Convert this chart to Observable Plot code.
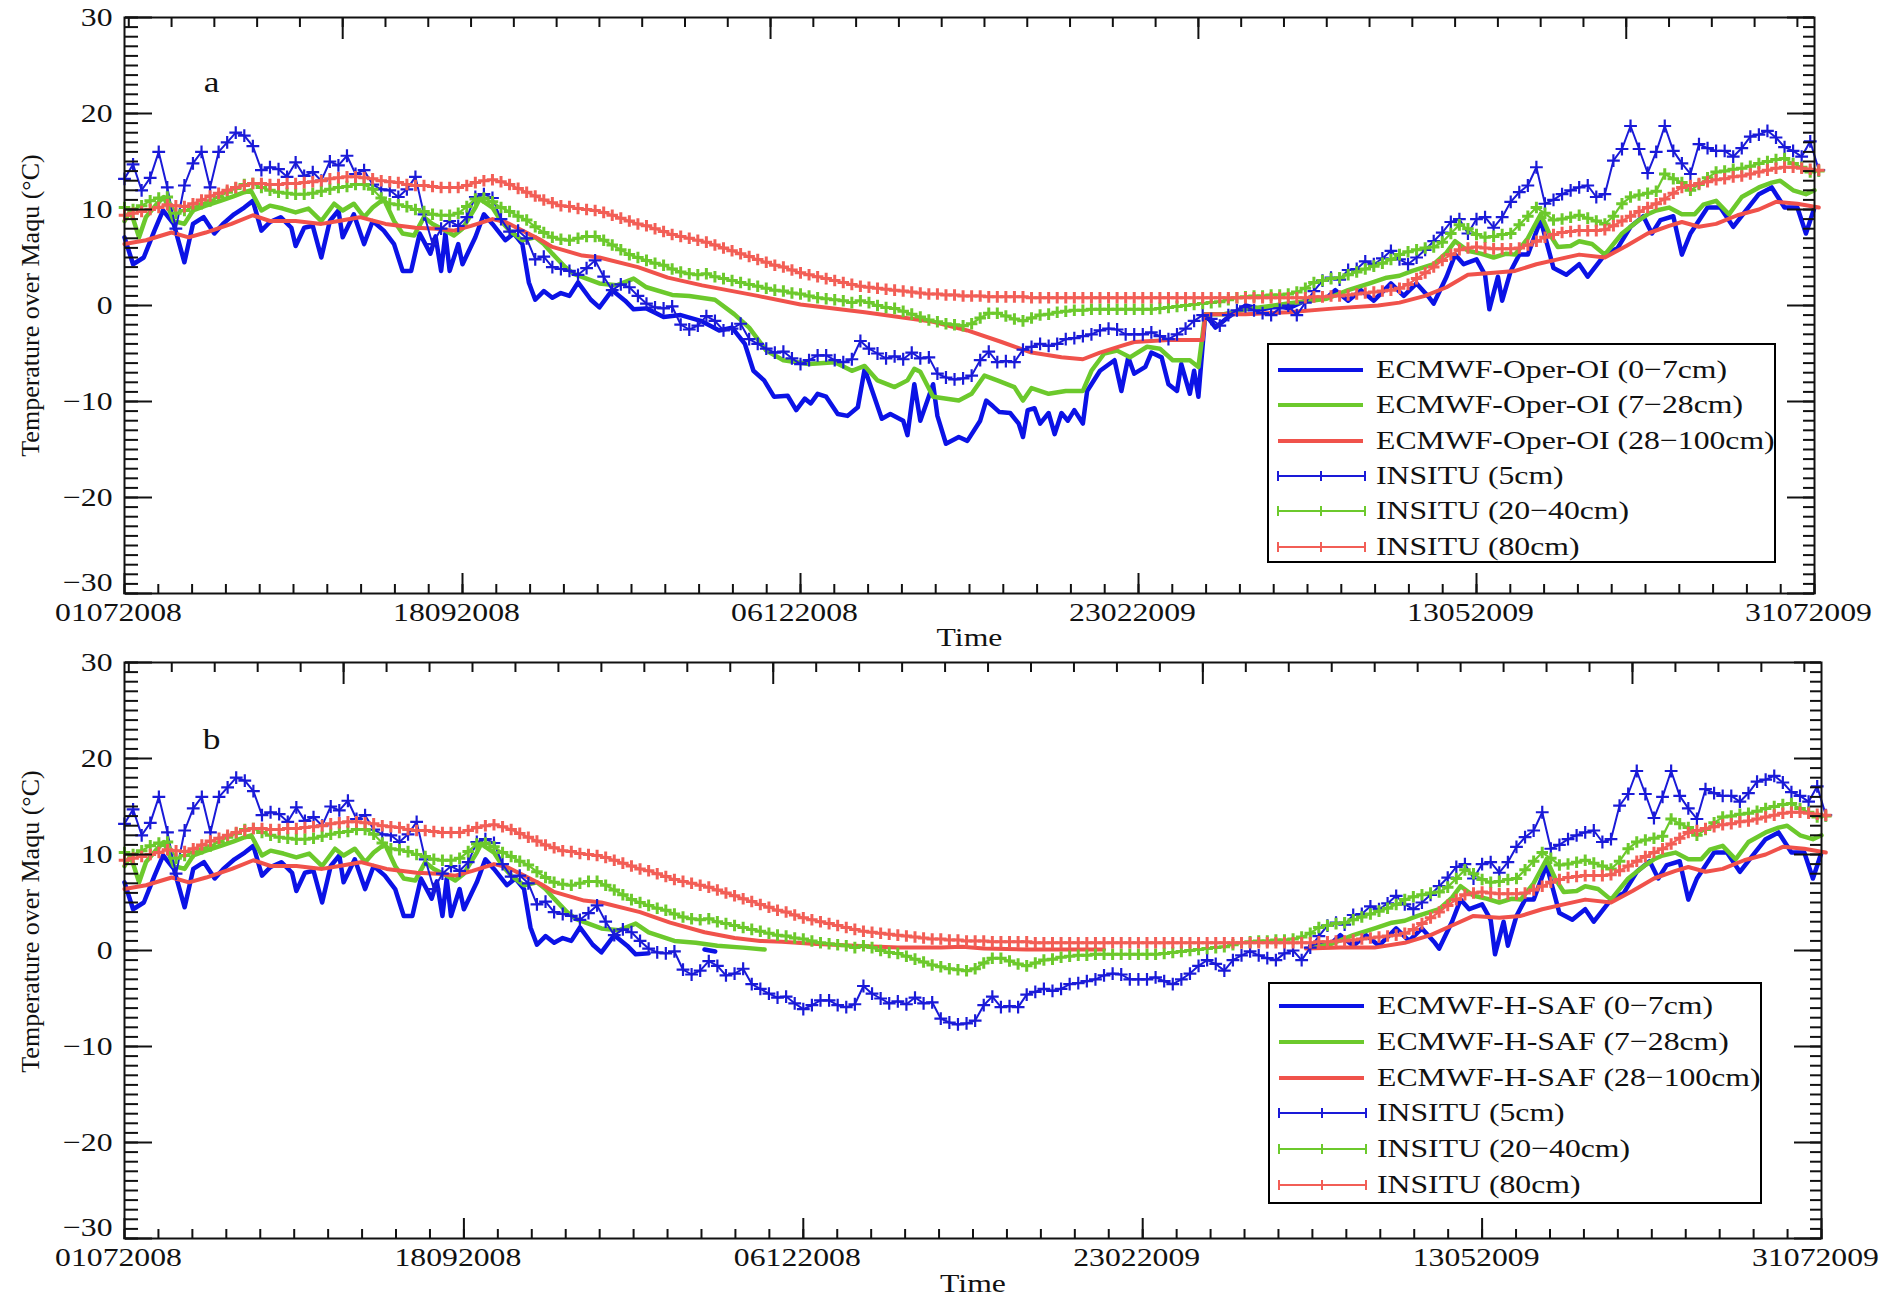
<!DOCTYPE html>
<html><head><meta charset="utf-8">
<script src="https://cdn.jsdelivr.net/npm/d3@7"></script>
<script src="https://cdn.jsdelivr.net/npm/@observablehq/plot@0.6"></script>
<style>
body{margin:0;background:#fff;}
#wrap{position:relative;width:1894px;height:1296px;background:#fff;overflow:hidden;font-family:"Liberation Serif","Times New Roman",serif;}
.panel{position:absolute;left:0;}
.legend{position:absolute;border:2px solid #000;background:#fff;box-sizing:border-box;}
.row{position:absolute;left:0;height:36px;width:100%;}
.row svg{position:absolute;left:8px;top:0;overflow:visible;}
.row span{position:absolute;left:107px;top:0;line-height:36px;font-size:26px;white-space:nowrap;transform:scaleX(1.22);transform-origin:0 50%;color:#111;}
</style></head>
<body><div id="wrap"></div>
<script>
const BLUE = "#0b12e6", GREEN = "#6cc92c", RED = "#f0524b";
const INSITU_BLUE = "#1a1ad8", INSITU_RED = "#f25e56";

// ---------- tick labels / text ----------
const xTickLabels = ["01072008","18092008","06122008","23022009","13052009","31072009"];
const yTicks = [-30,-20,-10,0,10,20,30];
const yTitle = "Temperature over Maqu (°C)";
const xTitle = "Time";
const legendA = ["ECMWF-Oper-OI (0−7cm)","ECMWF-Oper-OI (7−28cm)","ECMWF-Oper-OI (28−100cm)","INSITU (5cm)","INSITU (20−40cm)","INSITU (80cm)"];
const legendB = ["ECMWF-H-SAF (0−7cm)","ECMWF-H-SAF (7−28cm)","ECMWF-H-SAF (28−100cm)","INSITU (5cm)","INSITU (20−40cm)","INSITU (80cm)"];

// ---------- in-situ series: one value every 2 days from 01 Jul 2008 ----------
const insituStepDays = 2;
const insitu5 = [
13.2,14.7,12.0,13.3,16.0,12.3,8.0,12.5,14.8,16.0,
12.3,16.0,17.0,18.0,17.7,16.6,14.1,14.4,14.2,13.4,
14.9,13.5,13.9,13.0,15.0,14.6,15.6,13.7,14.1,12.6,
12.1,12.0,11.3,12.1,13.4,9.5,6.4,8.0,8.8,8.3,
9.2,11.3,11.6,11.2,9.0,7.7,7.8,7.0,4.8,5.1,
4.0,3.8,3.6,3.2,3.9,4.7,3.0,1.6,2.2,1.9,
1.0,0.2,-0.2,-0.3,-0.1,-2.0,-2.5,-2.1,-1.1,-1.6,
-2.6,-2.4,-1.9,-3.5,-4.0,-4.5,-4.9,-4.8,-5.5,-6.1,
-5.7,-5.2,-5.2,-5.7,-5.9,-5.6,-3.7,-4.5,-5.0,-5.5,
-5.3,-5.6,-4.9,-5.5,-5.4,-7.1,-7.5,-7.7,-7.6,-7.3,
-5.7,-4.8,-5.9,-5.8,-5.9,-4.6,-4.3,-4.0,-4.2,-4.0,
-3.5,-3.4,-3.2,-3.0,-2.6,-2.4,-2.5,-3.0,-3.0,-3.0,
-2.8,-3.2,-3.5,-3.0,-2.4,-1.6,-1.0,-1.4,-2.1,-1.0,
-0.5,-0.1,-0.5,-0.8,-1.0,-0.3,0.0,-1.0,0.3,1.5,
2.6,2.9,2.7,3.7,3.8,4.6,4.3,4.9,5.7,4.8,
4.3,5.0,5.8,6.7,7.6,8.7,9.0,7.5,9.0,9.2,
8.1,9.2,10.8,11.8,12.5,14.4,10.6,11.0,11.6,12.0,
12.3,12.5,11.3,11.6,15.1,16.3,18.7,16.3,13.8,16.0,
18.7,16.1,14.8,13.7,16.8,16.4,16.1,16.1,15.5,16.4,
17.6,17.8,18.2,17.5,16.5,16.1,15.5,17.1,14.1];
const insitu2040 = [
10.2,10.0,10.4,10.9,11.2,11.3,9.6,9.9,10.2,10.6,
10.9,11.3,11.8,12.2,12.6,12.7,12.3,12.0,11.8,11.7,
11.6,11.6,11.7,11.9,12.1,12.3,12.4,12.6,12.6,12.1,
11.2,10.6,10.5,10.3,10.0,9.8,9.5,9.4,9.4,9.6,
10.3,11.1,11.2,10.8,10.2,9.8,9.3,8.9,8.2,7.6,
7.1,6.9,6.8,7.0,7.2,7.2,6.8,6.3,5.8,5.3,
5.0,4.7,4.4,4.2,3.8,3.5,3.3,3.2,3.3,3.0,
2.8,2.6,2.4,2.2,2.0,1.8,1.6,1.5,1.3,1.2,
1.0,0.8,0.7,0.6,0.5,0.3,0.5,0.3,0.0,-0.2,
-0.3,-0.6,-0.9,-1.2,-1.5,-1.7,-1.9,-2.0,-2.1,-1.9,
-1.3,-0.8,-0.8,-1.1,-1.4,-1.6,-1.3,-1.0,-0.9,-0.7,
-0.6,-0.5,-0.5,-0.4,-0.4,-0.4,-0.4,-0.4,-0.4,-0.4,
-0.4,-0.3,-0.2,-0.1,0.0,0.1,0.2,0.3,0.4,0.6,
0.8,0.9,1.0,1.0,1.1,1.1,1.2,1.4,1.8,2.4,
2.6,2.8,2.9,3.2,3.5,3.8,4.1,4.4,4.8,5.3,
5.6,5.8,6.0,6.1,6.6,7.5,8.4,8.0,7.4,7.1,
7.2,7.4,7.5,8.4,9.3,10.2,9.6,8.9,9.0,9.2,
9.4,9.1,8.8,8.5,9.3,10.6,11.3,11.5,11.7,11.9,
13.7,13.2,12.8,12.0,12.6,13.3,13.9,14.0,14.2,14.3,
14.5,14.8,15.0,15.2,15.3,14.8,14.4,13.9,14.0];
const insitu80 = [
9.4,9.6,9.8,10.0,10.2,10.5,10.4,10.3,10.6,11.0,
11.4,11.7,12.0,12.3,12.5,12.7,12.7,12.6,12.6,12.7,
12.7,12.8,12.9,13.0,13.2,13.3,13.4,13.4,13.3,13.2,
13.0,12.9,12.8,12.6,12.5,12.5,12.4,12.3,12.3,12.3,
12.5,12.8,13.0,13.1,12.9,12.6,12.2,11.8,11.4,11.0,
10.7,10.4,10.3,10.1,10.0,9.9,9.7,9.4,9.1,8.8,
8.5,8.3,8.0,7.7,7.4,7.2,7.0,6.8,6.6,6.3,
6.0,5.7,5.4,5.1,4.8,4.5,4.2,4.0,3.7,3.4,
3.2,3.0,2.8,2.6,2.4,2.2,2.0,1.9,1.8,1.7,
1.6,1.5,1.4,1.3,1.2,1.2,1.1,1.1,1.0,1.0,
1.0,0.9,0.9,0.9,0.9,0.9,0.8,0.8,0.8,0.8,
0.8,0.8,0.8,0.8,0.8,0.8,0.8,0.8,0.8,0.8,
0.8,0.8,0.8,0.8,0.8,0.8,0.8,0.8,0.8,0.8,
0.8,0.8,0.8,0.8,0.8,0.8,0.8,0.8,0.8,0.9,
0.9,1.0,1.0,1.1,1.2,1.3,1.4,1.5,1.6,1.8,
2.2,2.8,3.4,4.0,4.7,5.3,5.8,6.0,6.1,6.0,
5.9,5.9,5.9,6.0,6.3,6.7,7.1,7.4,7.6,7.7,
7.8,7.8,7.8,7.9,8.3,8.8,9.3,9.8,10.2,10.6,
11.1,11.7,12.3,12.5,12.7,12.9,13.1,13.2,13.4,13.5,
13.7,13.9,14.1,14.3,14.4,14.4,14.3,14.2,14.1];

// ---------- ECMWF-Oper-OI series: [day since 01 Jul 2008, value] ----------
const oper07 = [[0,7.1],[2,4.3],[4.5,5.0],[7,7.8],[9,9.9],[11.5,8.5],[14,4.5],[16,8.5],[18.5,9.2],[21,7.5],[23,8.5],[25.6,9.5],[28,10.2],[30,10.9],[32,7.8],[34,8.7],[36.5,9.2],[39,8.1],[40,6.2],[42,8.1],[44,8.3],[46,5.0],[48,8.8],[50,9.9],[51,7.1],[53.6,9.5],[56,6.4],[58,8.8],[60.6,7.8],[63,6.4],[65,3.6],[67,3.6],[69,7.5],[71.5,5.4],[72.7,7.2],[74,3.6],[75,7.5],[76,3.6],[78,6.4],[79,4.3],[82,7.1],[84,9.5],[86,8.5],[89,6.8],[91,7.5],[93,6.4],[94.5,2.4],[96,0.6],[98,1.5],[100,0.8],[102,1.3],[104,1.0],[106,2.4],[109,0.6],[111,-0.2],[114,1.6],[117,0.5],[119,-0.4],[122,-0.3],[126,-1.2],[130,-1.0],[134.7,-1.6],[139,-2.6],[142,-2.3],[145,-4.0],[147,-6.8],[149.5,-7.8],[151.8,-9.5],[155,-9.4],[157,-10.9],[159,-9.7],[160.4,-10.2],[162,-9.2],[164,-9.5],[166.7,-11.3],[169,-11.5],[171.4,-10.6],[173,-6.6],[175,-9.2],[177,-11.8],[179,-11.3],[182,-12.0],[183,-13.5],[184.6,-8.2],[186,-12.0],[189,-8.2],[190,-11.5],[192,-14.4],[195,-13.7],[197,-14.1],[200,-12.0],[201.4,-9.9],[203,-10.5],[204.5,-11.1],[207,-11.2],[209,-12.3],[210,-13.7],[211.1,-10.9],[212.7,-10.7],[214,-12.3],[216,-11.2],[217.4,-13.4],[219,-11.2],[220.5,-12.0],[222,-10.9],[224,-12.3],[225,-8.9],[228,-6.8],[231.4,-5.7],[233,-8.9],[234.6,-5.4],[236,-7.1],[238.6,-6.4],[240,-4.9],[242.4,-5.4],[244,-8.2],[246,-8.9],[247,-6.1],[249,-9.2],[250,-6.8],[251,-9.5],[252.6,-0.9],[255,-2.3],[258,-1.2],[262,0],[266,-0.4],[270,0],[272,-0.3],[276,0.5],[281,0.8],[283,1.6],[286,0.5],[289,1.6],[292,0.5],[296,2.3],[299,1.0],[302,2.3],[305,0.8],[306,0.2],[309,3.0],[311,5.3],[313,4.3],[316,4.8],[318,3.2],[319,-0.4],[321,3.0],[322,0.5],[324,3.6],[326,5.3],[328,5.3],[331,8.9],[334,3.9],[337,3.2],[340,4.3],[342,3.0],[346,5.3],[349,6.0],[352,8.2],[355,9.3],[357,7.5],[359,8.9],[362,9.3],[364,5.3],[366,7.5],[370,10.2],[373,10.2],[376,8.2],[379,9.9],[382,11.6],[385,12.3],[388,10.2],[391,10.2],[393,7.5],[395,10.2]];
const oper728 = [[0,8.8],[1.4,9.9],[3.4,7.1],[5,9.2],[7.6,10.6],[9.2,11.3],[11.5,8.8],[14,8.5],[16,9.9],[19,10.4],[22.4,10.9],[25.6,11.4],[28,11.8],[29.5,12.0],[32,9.9],[34,10.4],[37,10.1],[40,9.7],[43,10.1],[46,8.8],[49,10.6],[51,9.9],[53.6,10.6],[56,9.2],[58,10.2],[60.6,11.1],[63,8.8],[65,7.5],[67.7,7.3],[70,9.2],[72,8.5],[75,7.8],[77,7.3],[79,8.0],[82,10.2],[83,11.1],[86,10.2],[88,8.8],[90,7.8],[93,6.8],[96,7.1],[98,6.4],[100,5.4],[103,4.0],[105,3.3],[108,2.8],[111,2.3],[115,2.1],[119,2.8],[122,1.9],[128,1.1],[132,1.0],[138,0.6],[142.5,-0.9],[146,-2.3],[150,-4.7],[154,-5.7],[160,-6.1],[166,-5.9],[170,-6.8],[173,-6.3],[176,-7.8],[180,-8.5],[183,-7.8],[184.6,-6.6],[186,-6.9],[189,-9.5],[195,-9.9],[198,-9.2],[201,-7.3],[204,-7.8],[208,-8.5],[210,-9.9],[212,-8.6],[216,-9.2],[220,-8.9],[224,-8.9],[226,-6.8],[229,-5.0],[232,-4.7],[235,-5.4],[239,-4.3],[242,-4.5],[245,-5.7],[249,-5.7],[251,-6.4],[252.6,-0.9],[257,-0.9],[262,-0.4],[267,-0.1],[272,0.2],[281,0.7],[286,1.6],[291,2.3],[295,2.9],[298,3.1],[301,3.6],[306,4.3],[309,5.5],[311,6.7],[314,5.7],[317,5.4],[320,5.0],[323,5.4],[325,5.3],[328,7.0],[331,9.5],[333,7.5],[335,6.1],[338,6.2],[340,6.7],[343,6.4],[346,5.3],[350,7.5],[354,8.9],[356,9.5],[358,9.9],[361,10.2],[364,9.5],[367,9.5],[369,10.5],[372,10.9],[375,9.5],[378,11.3],[382,12.3],[385,12.8],[387,13.0],[390,12.0],[393,11.6],[395,12.0]];
const oper28100 = [[0,6.4],[5,6.8],[11,7.6],[15,7.1],[19,7.6],[25,8.5],[30,9.4],[34,8.8],[40,8.8],[46,8.5],[50,8.8],[55,9.2],[61,8.5],[68,8.1],[73,8.0],[77,7.8],[81,8.3],[86,9.0],[89,8.7],[93,7.8],[97,6.9],[100,6.1],[107,5.2],[111,5.0],[120,4.0],[127,2.9],[135,2.1],[148,1.0],[158,0.1],[173,-0.7],[189,-1.7],[197,-2.6],[205,-3.8],[212,-4.9],[219,-5.4],[224,-5.6],[228,-4.9],[233,-4.2],[236,-3.8],[244,-3.6],[252,-3.6],[252.6,-0.9],[262,-0.9],[272,-0.7],[283,-0.3],[293,0.0],[298,0.3],[304,1.0],[309,1.9],[314,3.2],[320,3.4],[325,3.6],[330,4.3],[335,4.8],[340,5.3],[346,5.0],[351,6.2],[356,7.5],[361,8.3],[364,8.7],[368,8.2],[372,8.5],[377,9.4],[382,10.0],[386,10.8],[391,10.6],[396,10.2]];

// ---------- ECMWF-H-SAF: same as Oper-OI in summer/spring, own values (and gaps) in winter ----------
const hsafLastSummerDay = [122, 122, 127];   // 0-7, 7-28, 28-100
const hsafFirstSpringDay = [276, 277, 320];
const hsaf07Winter = [[135,0.1],[137.5,-0.1]];
const hsaf728Winter = [[128,1.0],[133,0.8],[138,0.5],[144,0.3],[149,0.1]];
const hsaf728Spring = [[277,0.3]];
const hsaf28100Winter = [[135,1.9],[142,1.3],[148,1.0],[153,0.9],[160,0.7],[170,0.5],[180,0.3],[190,0.3],[195,0.4],[200,0.2],[210,0.1],[220,0.1],[228,0.1]];
const hsaf28100Spring = [[275,0.2],[283,0.3],[291,0.3],[298,0.8],[304,1.6],[309,2.6],[314,3.6]];

// ---------- helpers ----------
const parseTick = d3.utcParse("%d%m%Y");
const START = parseTick(xTickLabels[0]).getTime();
const toDate = d => new Date(START + d * 86400000);
const GAP = [NaN, NaN];
const pts = arr => arr.map(([d, v]) => ({date: Number.isFinite(d) ? toDate(d) : null, v}));
const grid = arr => arr.map((v, i) => ({date: toDate(i * insituStepDays), v}));

const hsaf07 = [...oper07.filter(p => p[0] <= hsafLastSummerDay[0]), GAP, ...hsaf07Winter, GAP, ...oper07.filter(p => p[0] >= hsafFirstSpringDay[0])];
const hsaf728 = [...oper728.filter(p => p[0] <= hsafLastSummerDay[1]), ...hsaf728Winter, GAP, ...hsaf728Spring, ...oper728.filter(p => p[0] >= hsafFirstSpringDay[1])];
const hsaf28100 = [...oper28100.filter(p => p[0] <= hsafLastSummerDay[2]), ...hsaf28100Winter, GAP, ...hsaf28100Spring, ...oper28100.filter(p => p[0] >= hsafFirstSpringDay[2])];

const insituSeries = [
  {data: grid(insitu5), color: INSITU_BLUE, r: 4.2, sw: 2.2, lw: 2},
  {data: grid(insitu2040), color: GREEN, r: 3.8, sw: 3, lw: 2.2},
  {data: grid(insitu80), color: INSITU_RED, r: 3.8, sw: 3, lw: 2.2}
];

const STRETCH = 1.22;
function stretchText(svg) {
  svg.querySelectorAll("text").forEach(t => {
    const tr = t.getAttribute("transform") || "";
    if (/rotate/.test(tr)) return;
    const x = parseFloat(t.getAttribute("x")) || 0;
    t.setAttribute("transform", `${tr} translate(${x},0) scale(${STRETCH},1) translate(${-x},0)`);
  });
}

function panel({height, marginTop, marginBottom, marginRight, letter, letterDy, yTitleDy, xTitleDy, ecmwf}) {
  const marginLeft = 124;
  const W = 1894 - marginLeft - marginRight, H = height - marginTop - marginBottom;
  const majorX = xTickLabels.map(parseTick);
  const minorX = d3.range(0, 51).map(i => toDate(i * 7.9));
  const topMinor = d3.range(1, 396, 10).map(toDate);
  const topMajor = [51, 151, 251, 351].map(toDate);
  const minorY = d3.range(-30, 31);
  const svg = Plot.plot({
    width: 1894, height, marginLeft, marginRight, marginTop, marginBottom,
    x: {type: "utc", domain: [majorX[0], majorX[majorX.length - 1]], axis: null},
    y: {domain: [-30, 30], axis: null},
    style: {fontFamily: "'Liberation Serif','Times New Roman',serif", fontSize: "26px", color: "#111", background: "transparent", overflow: "visible"},
    marks: [
      ...ecmwf.map(s => Plot.line(pts(s.data), {x: "date", y: "v", stroke: s.color, strokeWidth: s.w, strokeLinejoin: "round"})),
      ...insituSeries.flatMap(s => [
        Plot.line(s.data, {x: "date", y: "v", stroke: s.color, strokeWidth: s.lw}),
        Plot.dot(s.data, {x: "date", y: "v", symbol: "plus", r: s.r, stroke: s.color, strokeWidth: s.sw})
      ]),
      Plot.frame({stroke: "#111", strokeWidth: 2}),
      // inward ticks: left
      Plot.axisY(minorY, {anchor: "right", dx: -W, tickSize: 13, strokeWidth: 2, fill: "none", label: null}),
      Plot.axisY(yTicks, {anchor: "right", dx: -W, tickSize: 27, strokeWidth: 2, fill: "none", label: null}),
      // inward ticks: right
      Plot.axisY(minorY, {anchor: "left", dx: W, tickSize: 11, strokeWidth: 2, fill: "none", label: null}),
      Plot.axisY(yTicks, {anchor: "left", dx: W, tickSize: 27, strokeWidth: 2, fill: "none", label: null}),
      // inward ticks: bottom
      Plot.axisX(minorX, {anchor: "top", dy: H, tickSize: 10, strokeWidth: 2, fill: "none", label: null}),
      Plot.axisX(majorX, {anchor: "top", dy: H, tickSize: 21, strokeWidth: 2, fill: "none", label: null}),
      // inward ticks: top
      Plot.axisX(topMinor, {anchor: "bottom", dy: -H, tickSize: 10, strokeWidth: 2, fill: "none", label: null}),
      Plot.axisX(topMajor, {anchor: "bottom", dy: -H, tickSize: 22, strokeWidth: 2, fill: "none", label: null}),
      // labels (the lowest y label sits a little above the frame corner, as in the original)
      Plot.axisY(yTicks.filter(v => v !== yTicks[0]), {anchor: "left", tickSize: 0, tickPadding: 12, label: null}),
      Plot.axisY([yTicks[0]], {anchor: "left", tickSize: 0, tickPadding: 12, dy: -11, label: null}),
      Plot.axisX(majorX, {anchor: "bottom", tickSize: 0, tickPadding: 9, dx: -6, tickFormat: d3.utcFormat("%d%m%Y"), label: null}),
      Plot.text([yTitle], {frameAnchor: "left", dx: -94, dy: yTitleDy, rotate: -90, textAnchor: "middle", lineAnchor: "middle", fontSize: 26}),
      Plot.text([xTitle], {frameAnchor: "bottom", dy: xTitleDy, textAnchor: "middle", lineAnchor: "middle", fontSize: 26}),
      Plot.text([letter], {frameAnchor: "top-left", dx: 87, dy: letterDy, textAnchor: "middle", lineAnchor: "middle", fontSize: 29})
    ]
  });
  stretchText(svg);
  return svg;
}

function legend(labels, {left, top, width, height, firstRow, rowStep}) {
  const ns = "http://www.w3.org/2000/svg";
  const colors = [BLUE, GREEN, RED, INSITU_BLUE, GREEN, INSITU_RED];
  const box = document.createElement("div");
  box.className = "legend";
  Object.assign(box.style, {left: left + "px", top: top + "px", width: width + "px", height: height + "px"});
  labels.forEach((lab, i) => {
    const row = document.createElement("div");
    row.className = "row";
    row.style.top = (firstRow + i * rowStep - 18 - 2) + "px";
    const s = document.createElementNS(ns, "svg");
    s.setAttribute("width", 96); s.setAttribute("height", 36);
    const seg = (x1, y1, x2, y2, w) => {
      const l = document.createElementNS(ns, "line");
      l.setAttribute("x1", x1); l.setAttribute("y1", y1); l.setAttribute("x2", x2); l.setAttribute("y2", y2);
      l.setAttribute("stroke", colors[i]); l.setAttribute("stroke-width", w);
      s.appendChild(l);
    };
    if (i < 3) seg(1, 18, 86, 18, 4);
    else { seg(1, 18, 88, 18, 2); [1, 44, 88].forEach(x => { seg(x, 13, x, 23, 2); }); }
    row.appendChild(s);
    const sp = document.createElement("span");
    sp.textContent = lab;
    row.appendChild(sp);
    box.appendChild(row);
  });
  return box;
}

const wrap = document.getElementById("wrap");
const pa = document.createElement("div"); pa.className = "panel"; pa.style.top = "0px";
pa.appendChild(panel({height: 650, marginTop: 17, marginBottom: 57, marginRight: 80, letter: "a", letterDy: 65, yTitleDy: 0, xTitleDy: 44,
  ecmwf: [{data: oper07, color: BLUE, w: 4.5}, {data: oper728, color: GREEN, w: 4.5}, {data: oper28100, color: RED, w: 4}]}));
wrap.appendChild(pa);
const pb = document.createElement("div"); pb.className = "panel"; pb.style.top = "650px";
pb.appendChild(panel({height: 646, marginTop: 12, marginBottom: 58, marginRight: 73, letter: "b", letterDy: 77, yTitleDy: -29, xTitleDy: 45,
  ecmwf: [{data: hsaf07, color: BLUE, w: 4.5}, {data: hsaf728, color: GREEN, w: 4.5}, {data: hsaf28100, color: RED, w: 4}]}));
wrap.appendChild(pb);
wrap.appendChild(legend(legendA, {left: 1267, top: 343, width: 509, height: 220, firstRow: 27, rowStep: 35.3}));
wrap.appendChild(legend(legendB, {left: 1268, top: 982, width: 494, height: 222, firstRow: 24, rowStep: 35.8}));
</script>
</body></html>
